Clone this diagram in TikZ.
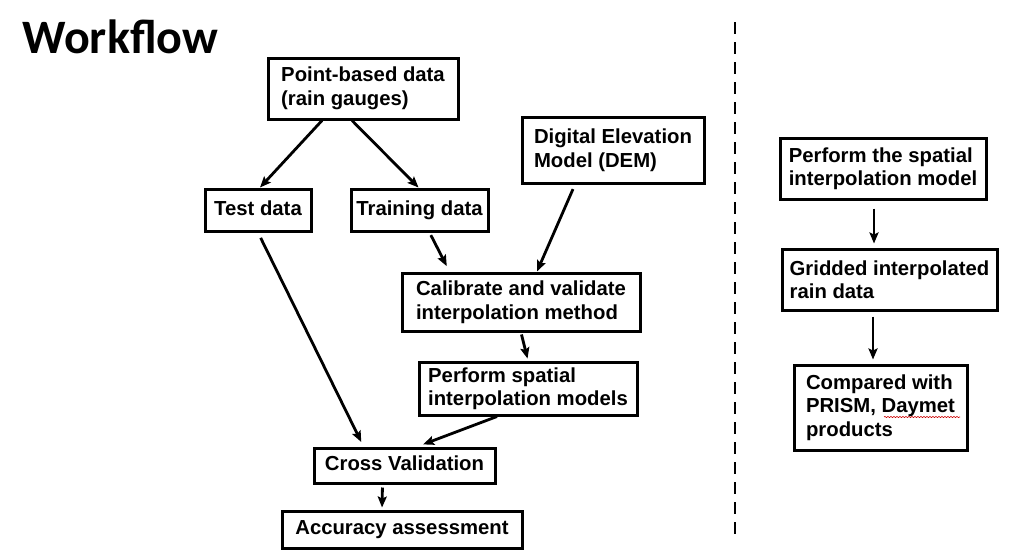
\documentclass[tikz,border=0pt]{standalone}
\usepackage{fontspec}
\setmainfont{Liberation Sans}
\newfontfamily\titlefont{Carlito}
\usetikzlibrary{positioning,arrows.meta,decorations.pathmorphing}

\begin{document}
\begin{tikzpicture}[x=1pt,y=-1pt,
        BoxStyle/.style = { rectangle, draw, line width=3pt,
          align=left, inner sep=0pt,
          font = \fontsize{20.3}{23.5}\selectfont\bfseries },
        OneLine/.style = { text height=14.5pt, text depth=4.5pt },
        FlowStyle/.style = { line width=2.8pt,
          -{Stealth[length=11pt,width=9pt,inset=2pt]} }
      ]
      \useasboundingbox (0,0) rectangle (1026,558);
      \node[anchor=base west, font=\titlefont\fontsize{48}{52}\selectfont\bfseries]
        (title) at (19,53) {Workflow};
      % left part
      \node[BoxStyle, minimum width=190pt, minimum height=61pt] (pbd) at (363,88.5)
        {Point-based data\\(rain gauges)};
      \node[BoxStyle, OneLine, minimum width=106pt, minimum height=42pt] (test) at (258,210) {Test data};
      \node[BoxStyle, OneLine, minimum width=137pt, minimum height=42pt] (train) at (419.5,210) {Training data};
      \node[BoxStyle, minimum width=182pt, minimum height=66pt] (dem) at (613,150)
        {Digital Elevation\\Model (DEM)};
      \node[BoxStyle, minimum width=238pt, minimum height=58pt] (calib) at (521,302)
        {Calibrate and validate\\interpolation method};
      \node[BoxStyle, minimum width=218pt, minimum height=53pt] (perf) at (528,388.5)
        {Perform spatial\\interpolation models};
      \node[BoxStyle, OneLine, minimum width=181pt, minimum height=35pt] (cross) at (404.5,465.5) {Cross Validation};
      \node[BoxStyle, OneLine, minimum width=240pt, minimum height=37pt] (acc) at (402,529.5) {Accuracy assessment};
      \draw[FlowStyle] ([xshift=-41pt]pbd.south) -- ([xshift=2pt]test.north);
      \draw[FlowStyle] ([xshift=-11pt]pbd.south) -- ([xshift=-1pt]train.north);
      \draw[FlowStyle, shorten <=6pt, shorten >=5pt] (test.south) -- ([xshift=-41pt]cross.north);
      \draw[FlowStyle, shorten <=3pt, shorten >=6pt] ([xshift=10pt]train.south) -- ([xshift=49pt]calib.north west);
      \draw[FlowStyle, shorten <=5pt] ([xshift=-38pt]dem.south) -- ([xshift=16pt]calib.north);
      \draw[FlowStyle, shorten <=2pt, shorten >=2pt] (calib.south) -- (perf.north);
      \draw[FlowStyle, shorten >=6pt] ([xshift=-31pt]perf.south) -- ([xshift=13pt]cross.north);
      \draw[FlowStyle, shorten <=3pt, shorten >=2pt] ([xshift=-22pt]cross.south) -- ([xshift=-20pt]acc.north);
      % separator
      \coordinate (septop) at (735,22);
      \coordinate (sepbot) at (735,541);
      \draw[line width=2.8pt, dash pattern=on 12pt off 8pt] (septop) -- (sepbot);
      % right part
      \node[BoxStyle, minimum width=206pt, minimum height=61pt] (model) at (883,168.5)
        {Perform the spatial\\interpolation model};
      \node[BoxStyle, minimum width=215pt, minimum height=61pt] (grid) at (889.5,279.5)
        {Gridded interpolated\\rain data};
      \node[BoxStyle, minimum width=173pt, minimum height=85pt] (comp) at (880.5,407.5)
        {Compared with\\PRISM, Daymet\\products};
      \draw[FlowStyle, shorten <=8pt, shorten >=4pt] ([xshift=-9pt]model.south) -- ([xshift=-15.5pt]grid.north);
      \draw[FlowStyle, shorten <=5pt, shorten >=4pt] ([xshift=-16.5pt]grid.south) -- ([xshift=-7.5pt]comp.north);
      \draw[red!80!black, line width=0.6pt, decorate,
        decoration={snake, amplitude=0.6pt, segment length=3pt}] (884,417) -- (960,417);
    \end{tikzpicture}
\end{document}
